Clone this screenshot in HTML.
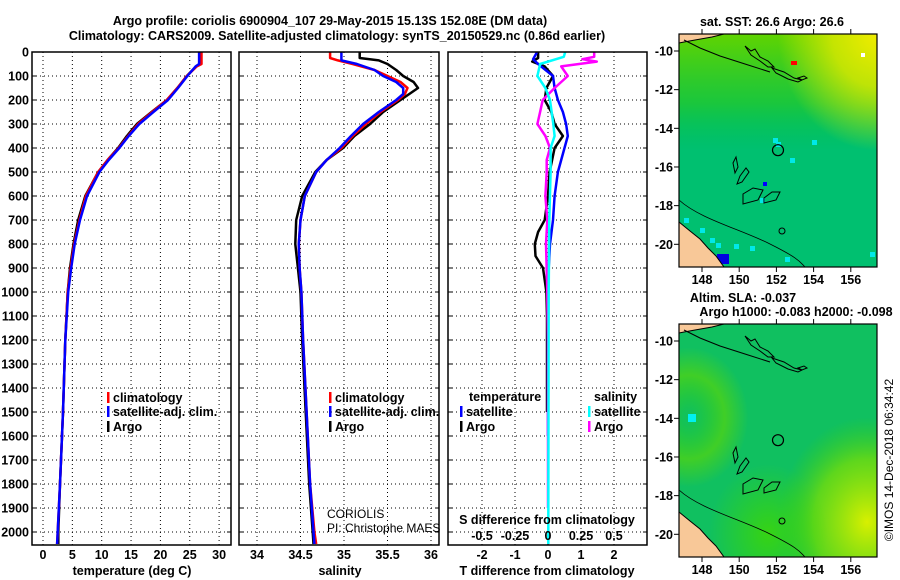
<!DOCTYPE html>
<html><head><meta charset="utf-8"><style>
html,body{margin:0;padding:0;background:#fff;}
svg{display:block;font-family:"Liberation Sans",Arial,sans-serif;}
.b{font-weight:bold;font-size:12.5px;}
</style></head><body>
<svg id="fig" width="900" height="580" viewBox="0 0 900 580" xmlns="http://www.w3.org/2000/svg">
<text class="b" x="330" y="25" text-anchor="middle" font-size="13.5">Argo profile: coriolis 6900904_107 29-May-2015 15.13S 152.08E (DM data)</text>
<text class="b" x="337" y="40" text-anchor="middle" font-size="13.5">Climatology: CARS2009. Satellite-adjusted climatology: synTS_20150529.nc (0.86d earlier)</text>
<g id="plots"></g>
<g id="maps"></g>
</svg>
<script>
// ---- data ----
const depthTicks = [0,100,200,300,400,500,600,700,800,900,1000,1100,1200,1300,1400,1500,1600,1700,1800,1900,2000];
const tempTicks = [0,5,10,15,20,25,30];
const salTicks = [34,34.5,35,35.5,36];
const tdiffTicks = [-2,-1,0,1,2];
const sdiffTicks = [-0.5,-0.25,0,0.25,0.5];
const sdiffTickLabels = ["-0.5","-0.25","0","0.25","0.5"];

const tDepth = [0,50,60,100,150,200,250,300,350,400,450,500,600,700,800,900,1000,1200,1500,1800,2000,2050];
const tClim = [27.0,27.0,26.2,24.5,22.9,21.1,18.6,16.2,14.5,12.9,11.0,9.4,7.3,6.2,5.3,4.7,4.2,3.8,3.4,2.9,2.5,2.4];
const tSat = [26.6,26.6,26.0,24.6,23.0,21.3,18.8,16.4,14.6,13.0,11.2,9.6,7.5,6.3,5.4,4.8,4.3,3.8,3.4,2.9,2.5,2.4];
const tArgo = [26.8,26.8,26.1,24.5,22.9,21.1,18.5,16.0,14.3,12.8,11.0,9.4,7.2,6.0,5.2,4.6,4.2,3.8,3.4,2.9,2.6,2.6];

const sDepth = [0,25,35,50,75,100,125,150,175,200,250,300,350,400,450,500,600,700,800,900,1000,1200,1500,1800,2000,2050];
const sArgo = [35.18,35.18,35.4,35.5,35.6,35.68,35.8,35.85,35.75,35.65,35.45,35.3,35.12,34.99,34.8,34.67,34.52,34.45,34.44,34.47,34.5,34.52,34.56,34.6,34.64,34.65];
const sClim = [34.84,34.84,34.93,35.1,35.35,35.5,35.65,35.73,35.7,35.62,35.42,35.25,35.1,34.97,34.8,34.68,34.55,34.5,34.48,34.49,34.51,34.53,34.57,34.61,34.66,34.68];
const sSat = [34.97,34.97,34.97,35.15,35.35,35.45,35.6,35.68,35.68,35.6,35.4,35.22,35.08,34.95,34.8,34.68,34.55,34.5,34.48,34.49,34.51,34.53,34.57,34.61,34.65,34.66];

const dtSatDepth = [0,30,50,100,150,200,250,300,350,400,450,500,600,700,800,900,1000,1200,1600];
const dtSat = [-0.33,-0.45,-0.3,0.15,0.2,0.3,0.45,0.55,0.6,0.5,0.4,0.3,0.2,0.15,0.06,0.02,0,0,0];
const dtArgoDepth = [0,25,40,60,100,150,200,250,300,350,400,500,600,700,750,800,850,900,1000,1100,1500];
const dtArgo = [-0.3,-0.3,-0.48,-0.1,0.15,-0.05,-0.1,0.1,0.2,0.45,0.2,0.05,0,-0.1,-0.3,-0.4,-0.38,-0.15,-0.05,-0.03,-0.03];
const dsSatDepth = [0,20,50,100,150,200,300,350,400,500,700,1000,2000,2050];
const dsSat = [0.13,0.12,-0.06,-0.08,-0.02,0.015,0.04,0.05,0.02,0.02,0.01,0.005,0.002,0.002];
const dsArgoDepth = [0,20,30,40,60,100,150,200,250,300,350,400,450,500,600,700,800,1000,1200,1900];
const dsArgo = [0.35,0.35,0.26,0.37,0.1,0.15,0.05,-0.04,-0.06,-0.08,-0.02,0.015,-0.01,-0.01,-0.02,-0.005,-0.015,-0.005,0,0];

const latTicks = [-10,-12,-14,-16,-18,-20];
const lonTicks = [148,150,152,154,156];

// ---- helpers ----
const NS = "http://www.w3.org/2000/svg";
function mk(tag, attrs, parent, txt){
  const e = document.createElementNS(NS, tag);
  for (const k in attrs) e.setAttribute(k, attrs[k]);
  if (txt !== undefined) e.textContent = txt;
  parent.appendChild(e);
  return e;
}
const yD = d => 52 + 0.24*d;
const xT = v => 43 + 5.87*v;
const xS = v => 257 + 87*(v-34);
const xDT = v => 548 + 33*v;
const xDS = v => 548 + 132*v;
const plots = document.getElementById('plots');
const TOP = 52, BOT = 545;

function panel(name, x0, x1, xTicksPx){
  const g = mk('g', {}, plots);
  
  
  depthTicks.forEach(d => {
    const l = mk('line', {x1:x0, x2:x1, y1:yD(d), y2:yD(d), stroke:'#000','stroke-width':1,'stroke-dasharray':'1,3'}, g);
    
    
    mk('line', {x1:x0, x2:x0+4, y1:yD(d), y2:yD(d), stroke:'#000'}, g);
    mk('line', {x1:x1-4, x2:x1, y1:yD(d), y2:yD(d), stroke:'#000'}, g);
  });
  xTicksPx.forEach(x => {
    const l = mk('line', {x1:x, x2:x, y1:TOP, y2:BOT, stroke:'#000','stroke-width':1,'stroke-dasharray':'1,3'}, g);
    
    
  });
  return g;
}
function frame(g, x0, x1){
  const r = mk('rect', {x:x0, y:TOP, width:x1-x0, height:BOT-TOP, fill:'none', stroke:'#000','stroke-width':1.5}, g);
  
  
}
function line(g, depths, vals, xf, color, name){
  const pts = depths.map((d,i) => xf(vals[i]).toFixed(1)+','+yD(d).toFixed(1)).join(' ');
  const p = mk('polyline', {points:pts, fill:'none', stroke:color, 'stroke-width':2.5, 'stroke-linejoin':'round'}, g);
  
  
}
function txt(g, x, y, s, name, opts){
  const a = Object.assign({x:x, y:y, class:'b'}, opts||{});
  const t = mk('text', a, g, s);
  
  
  return t;
}
function legend(g, x, y, color, label){
  const m = mk('rect', {x:x, y:y-10, width:2.5, height:11, fill:color}, g);
  
  
  txt(g, x+6, y, label, 'legend-entry');
}

const dl = mk('g', {}, plots);


depthTicks.forEach(d => txt(dl, 29, yD(d)+4.5, String(d), 'depth-tick-label', {'text-anchor':'end'}));

const p1 = panel('temperature-panel', 32, 231, tempTicks.map(xT));
line(p1, tDepth, tArgo, xT, '#000', 'temp-argo-line');
line(p1, tDepth, tClim, xT, '#f00', 'temp-climatology-line');
line(p1, tDepth, tSat, xT, '#00f', 'temp-satellite-line');
frame(p1, 32, 231);
tempTicks.forEach(v => txt(p1, xT(v), 559, String(v), 'temp-tick-label', {'text-anchor':'middle'}));
txt(p1, 132, 575, 'temperature (deg C)', 'x-axis-title', {'text-anchor':'middle'});
legend(p1, 107, 402, '#f00', 'climatology');
legend(p1, 107, 416, '#00f', 'satellite-adj. clim.');
legend(p1, 107, 431, '#000', 'Argo');

const p2 = panel('salinity-panel', 239, 439, salTicks.map(xS));
line(p2, sDepth, sArgo, xS, '#000', 'sal-argo-line');
line(p2, sDepth, sClim, xS, '#f00', 'sal-climatology-line');
line(p2, sDepth, sSat, xS, '#00f', 'sal-satellite-line');
frame(p2, 239, 439);
salTicks.forEach(v => txt(p2, xS(v), 559, String(v), 'sal-tick-label', {'text-anchor':'middle'}));
txt(p2, 340, 575, 'salinity', 'x-axis-title', {'text-anchor':'middle'});
legend(p2, 329, 402, '#f00', 'climatology');
legend(p2, 329, 416, '#00f', 'satellite-adj. clim.');
legend(p2, 329, 431, '#000', 'Argo');
txt(p2, 327, 518, 'CORIOLIS', 'operator-label', {class:'', 'font-size':'12'});
txt(p2, 327, 532, 'PI: Christophe MAES', 'pi-label', {class:'', 'font-size':'12'});

const p3 = panel('difference-panel', 448, 647, tdiffTicks.map(xDT));
line(p3, dtArgoDepth, dtArgo, xDT, '#000', 'tdiff-argo-line');
line(p3, dtSatDepth, dtSat, xDT, '#00f', 'tdiff-satellite-line');
line(p3, dsArgoDepth, dsArgo, xDS, '#f0f', 'sdiff-argo-line');
line(p3, dsSatDepth, dsSat, xDS, '#0ff', 'sdiff-satellite-line');
frame(p3, 448, 647);
tdiffTicks.forEach(v => txt(p3, xDT(v), 559, String(v), 'tdiff-tick-label', {'text-anchor':'middle'}));
sdiffTicks.forEach((v,i) => txt(p3, xDS(v), 540, sdiffTickLabels[i], 'sdiff-tick-label', {'text-anchor':'middle'}));
txt(p3, 547, 524, 'S difference from climatology', 'sdiff-axis-title', {'text-anchor':'middle'});
txt(p3, 547, 575, 'T difference from climatology', 'x-axis-title', {'text-anchor':'middle'});
txt(p3, 469, 401, 'temperature', 'legend-title-temperature');
txt(p3, 594, 401, 'salinity', 'legend-title-salinity');
legend(p3, 460, 416, '#00f', 'satellite');
legend(p3, 460, 431, '#000', 'Argo');
legend(p3, 588, 416, '#0ff', 'satellite');
legend(p3, 588, 431, '#f0f', 'Argo');

// ---- maps ----
const maps = document.getElementById('maps');
const MX0 = 679, MX1 = 877;
const lonX = lon => 702 + 18.6*(lon-148);
function map(name, y0, kind){
  const g = mk('g', {}, maps);
  
  
  const latY = lat => y0 + 17 + 19.33*(-10 - lat);
  const H = 233;
  const id = name+'-clip';
  const defs = mk('defs', {}, g);
  const cp = mk('clipPath', {id:id}, defs);
  mk('rect', {x:MX0, y:y0, width:MX1-MX0, height:H}, cp);
  const inner = mk('g', {'clip-path':'url(#'+id+')'}, g);
  if (kind === 'sst'){
    mk('rect', {x:MX0, y:y0, width:MX1-MX0, height:H, fill:'#00c070'}, inner);
    const lg = mk('linearGradient', {id:'sstg', x1:0, y1:0, x2:0, y2:1}, defs);
    mk('stop', {offset:'0', 'stop-color':'#60d400', 'stop-opacity':'1'}, lg);
    mk('stop', {offset:'0.3', 'stop-color':'#20c830', 'stop-opacity':'0.8'}, lg);
    mk('stop', {offset:'0.5', 'stop-color':'#00c050', 'stop-opacity':'0'}, lg);
    mk('rect', {x:MX0, y:y0, width:MX1-MX0, height:H, fill:'url(#sstg)'}, inner);
    const rg = mk('radialGradient', {id:'sstyel', cx:1, cy:0, r:0.5}, defs);
    mk('stop', {offset:'0', 'stop-color':'#f0ec00', 'stop-opacity':'1'}, rg);
    mk('stop', {offset:'0.45', 'stop-color':'#d8e800', 'stop-opacity':'0.85'}, rg);
    mk('stop', {offset:'1', 'stop-color':'#d8e800', 'stop-opacity':'0'}, rg);
    mk('rect', {x:MX0, y:y0, width:MX1-MX0, height:H, fill:'url(#sstyel)'}, inner);
    mk('rect', {x:791, y:y0+27, width:6, height:4, fill:'#f00'}, inner);
    mk('rect', {x:861, y:y0+19, width:4, height:4, fill:'#fff'}, inner);
    mk('rect', {x:763, y:y0+148, width:4, height:4, fill:'#00f'}, inner);
    [[773,138],[776,142],[716,243],[760,198],[790,158],[812,140],[684,218],[700,228],[710,238],[734,244],[750,246],[785,257],[870,252]].forEach(p=>{
      mk('rect', {x:p[0], y:y0-34+p[1], width:5, height:5, fill:'#00e8e8'}, inner);
    });
    mk('rect', {x:717, y:y0+220, width:12, height:10, fill:'#0000e0'}, inner);
  } else {
    mk('rect', {x:MX0, y:y0, width:MX1-MX0, height:H, fill:'#10c060'}, inner);
    const r1 = mk('radialGradient', {id:'slay', cx:0.95, cy:0.85, r:0.45}, defs);
    mk('stop', {offset:'0', 'stop-color':'#d8f000', 'stop-opacity':'1'}, r1);
    mk('stop', {offset:'0.6', 'stop-color':'#80e000', 'stop-opacity':'0.7'}, r1);
    mk('stop', {offset:'1', 'stop-color':'#40d000', 'stop-opacity':'0'}, r1);
    mk('rect', {x:MX0, y:y0, width:MX1-MX0, height:H, fill:'url(#slay)'}, inner);
    const r2 = mk('radialGradient', {id:'slal', cx:0.05, cy:0.4, r:0.3}, defs);
    mk('stop', {offset:'0', 'stop-color':'#30d000', 'stop-opacity':'0'}, r2);
    mk('stop', {offset:'0.6', 'stop-color':'#60d800', 'stop-opacity':'0.6'}, r2);
    mk('stop', {offset:'1', 'stop-color':'#60d800', 'stop-opacity':'0'}, r2);
    mk('rect', {x:MX0, y:y0, width:MX1-MX0, height:H, fill:'url(#slal)'}, inner);
    const r3 = mk('radialGradient', {id:'slat', cx:0.45, cy:0.9, r:0.3}, defs);
    mk('stop', {offset:'0', 'stop-color':'#40d800', 'stop-opacity':'0.8'}, r3);
    mk('stop', {offset:'1', 'stop-color':'#40d800', 'stop-opacity':'0'}, r3);
    mk('rect', {x:MX0, y:y0, width:MX1-MX0, height:H, fill:'url(#slat)'}, inner);
    mk('rect', {x:688, y:y0+90, width:8, height:8, fill:'#00f0f0'}, inner);
  }
  // land
  mk('polygon', {points:`${MX0},${y0} 724,${y0} 712,${y0+3} 695,${y0+6} 684,${y0+8} ${MX0},${y0+9}`, fill:'#f8c898', stroke:'#000', 'stroke-width':1}, inner);
  mk('polygon', {points:`${MX0},${y0+188} 690,${y0+197} 700,${y0+205} 708,${y0+214} 716,${y0+222} 724,${y0+233} ${MX0},${y0+233}`, fill:'#f8c898', stroke:'#000', 'stroke-width':1}, inner);
  // PNG coast / islands outlines
  mk('path', {d:`M684,${y0+6} L700,${y0+14} L720,${y0+22} L745,${y0+30} L770,${y0+38}`, fill:'none', stroke:'#000', 'stroke-width':1}, inner);
  mk('path', {d:`M745,${y0+12} l6,5 l4,-2 l5,8 l8,4 l6,6 l-6,0 l-8,-6 l-9,-6 Z M772,${y0+34} l12,4 l10,6 l8,2 l-4,2 l-10,-3 l-12,-6 Z M798,${y0+44} l6,-2 l3,2 l-5,2 Z`, fill:'none', stroke:'#000', 'stroke-width':1}, inner);
  // shelf contour
  mk('path', {d:`M${MX0},${y0+166} C700,${y0+185} 740,${y0+195} 770,${y0+210} S800,${y0+228} 805,${y0+233}`, fill:'none', stroke:'#000', 'stroke-width':0.8}, inner);
  // reefs
  mk('path', {d:`M733,${y0+129} l3,-6 l2,10 l-3,6 Z M740,${y0+142} l6,-8 l3,4 l-7,10 l-5,2 Z M743,${y0+160} l10,-6 l10,2 l-5,10 l-15,4 Z M764,${y0+164} l8,-6 l8,0 l-4,8 l-12,3 Z`, fill:'none', stroke:'#000', 'stroke-width':1}, inner);
  mk('circle', {cx:782, cy:y0+197, r:3, fill:'none', stroke:'#000', 'stroke-width':1}, inner);
  const c = mk('circle', {cx:778, cy:latY(-15.13), r:5.5, fill:'none', stroke:'#000', 'stroke-width':1.2}, g);
  
  
  const fr = mk('rect', {x:MX0, y:y0, width:MX1-MX0, height:H, fill:'none', stroke:'#000', 'stroke-width':1.2}, g);
  
  
  latTicks.forEach(l => {
    mk('line', {x1:MX0-5, x2:MX0, y1:latY(l), y2:latY(l), stroke:'#000'}, g);
    txt(g, 673, latY(l)+4.5, String(l), 'lat-tick-label', {'text-anchor':'end'});
  });
  lonTicks.forEach(l => {
    mk('line', {x1:lonX(l), x2:lonX(l), y1:y0-5, y2:y0, stroke:'#000'}, g);
    mk('line', {x1:lonX(l), x2:lonX(l), y1:y0+H, y2:y0+H+5, stroke:'#000'}, g);
    txt(g, lonX(l), y0+H+17, String(l), 'lon-tick-label', {'text-anchor':'middle'});
  });
  return g;
}
const m1 = map('sst-map', 34, 'sst');
txt(m1, 772, 26, 'sat. SST: 26.6 Argo: 26.6', 'sst-map-title', {'text-anchor':'middle'});
const m2 = map('sla-map', 324, 'sla');
txt(m2, 743, 302, 'Altim. SLA: -0.037', 'sla-map-title', {'text-anchor':'middle'});
txt(m2, 796, 316, 'Argo h1000: -0.083 h2000: -0.098', 'sla-map-subtitle', {'text-anchor':'middle'});
txt(maps, 893, 460, '\u00A9IMOS 14-Dec-2018 06:34:42', 'imos-credit', {class:'', 'font-size':'12', 'text-anchor':'middle', transform:'rotate(-90 893 460)'});
</script>
</body></html>
